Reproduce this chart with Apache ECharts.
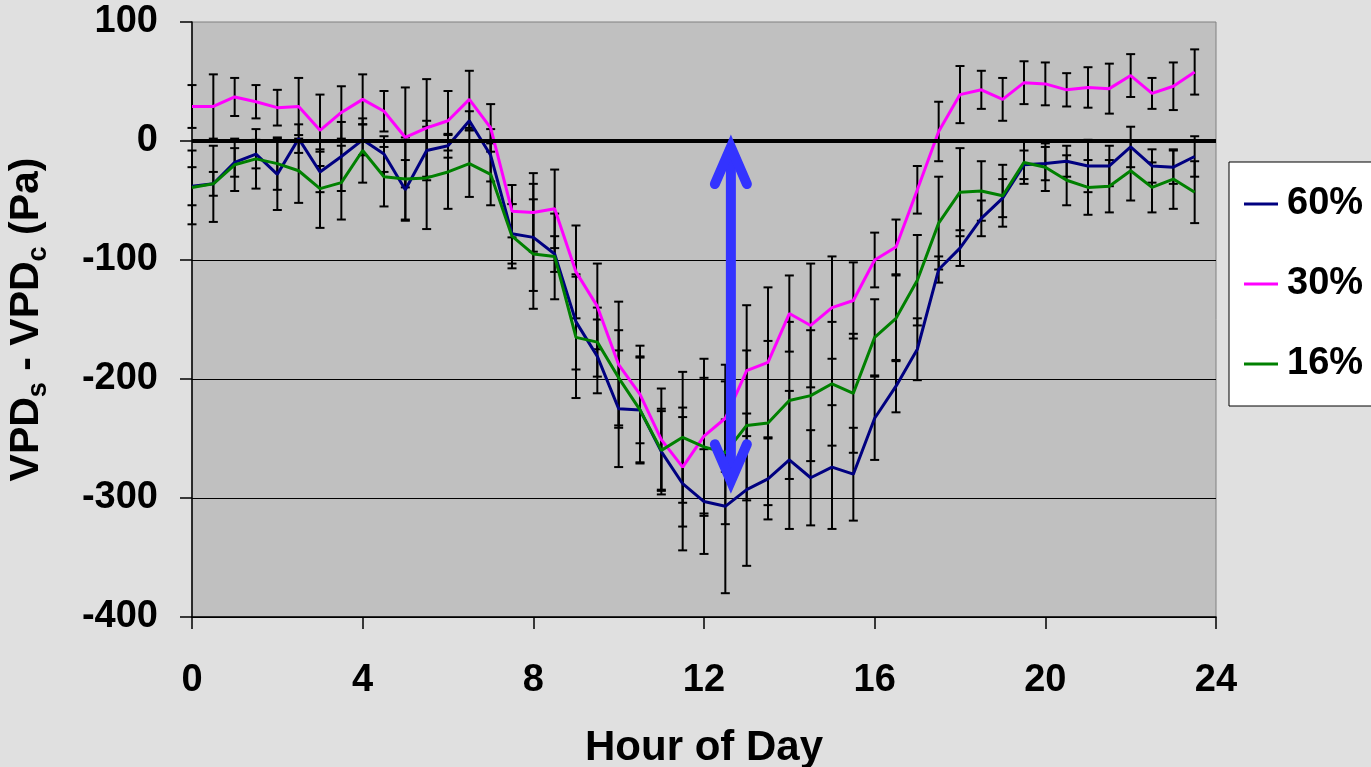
<!DOCTYPE html>
<html>
<head>
<meta charset="utf-8">
<script src="https://cdn.jsdelivr.net/npm/echarts@6/dist/echarts.min.js"></script>
<style>
  html, body { margin: 0; padding: 0; background: #e0e0e0; }
  #chart { width: 1371px; height: 767px; }
</style>
</head>
<body>
<div id="chart"></div>
<script>
// Half-hourly means of VPD(surface) - VPD(canopy), Pa, for three humidity treatments
const hours = [0, 0.5, 1, 1.5, 2, 2.5, 3, 3.5, 4, 4.5, 5, 5.5, 6, 6.5, 7, 7.5,
  8, 8.5, 9, 9.5, 10, 10.5, 11, 11.5, 12, 12.5, 13, 13.5, 14, 14.5, 15, 15.5,
  16, 16.5, 17, 17.5, 18, 18.5, 19, 19.5, 20, 20.5, 21, 21.5, 22, 22.5, 23, 23.5];

const rh60 = [-38, -36, -18, -11, -28, 2, -26, -13, 1, -11, -41, -8, -4, 17, -12, -78,
  -81, -95, -152, -181, -225, -226, -261, -288, -303, -307, -293, -284, -268, -283, -274, -280,
  -233, -206, -175, -108, -90, -65, -48, -20, -19, -17, -21, -21, -5, -21, -22, -13];
const rh30 = [29, 29, 37, 33, 28, 29, 9, 24, 35, 25, 3, 11, 17, 35, 11, -59,
  -60, -57, -110, -139, -188, -213, -251, -274, -248, -233, -193, -186, -145, -155, -140, -134,
  -100, -89, -41, 8, 39, 43, 35, 49, 48, 43, 45, 44, 55, 40, 46, 58];
const rh16 = [-39, -36, -20, -15, -19, -25, -40, -35, -8, -30, -32, -31, -26, -19, -28, -80,
  -95, -97, -165, -169, -199, -226, -260, -249, -257, -262, -239, -237, -218, -214, -204, -212,
  -165, -149, -117, -69, -43, -42, -46, -18, -22, -33, -39, -38, -25, -39, -32, -43];

// Standard-error half widths for each mean
const err60 = [16, 10, 12, 12, 30, 12, 17, 29, 13, 15, 25, 25, 10, 8, 22, 25,
  45, 15, 40, 31, 49, 45, 36, 56, 44, 73, 64, 34, 58, 40, 52, 39,
  35, 22, 26, 11, 15, 15, 16, 12, 14, 13, 22, 17, 17, 14, 14, 17];
const err30 = [18, 27, 16, 14, 15, 24, 30, 22, 21, 17, 42, 41, 25, 24, 20, 22,
  33, 33, 39, 36, 53, 41, 43, 50, 65, 45, 55, 63, 32, 52, 43, 32,
  23, 23, 20, 25, 24, 16, 18, 18, 18, 14, 17, 21, 18, 13, 20, 19];
const err16 = [31, 32, 22, 25, 22, 27, 33, 31, 27, 25, 35, 43, 31, 28, 26, 27,
  46, 36, 51, 29, 40, 44, 33, 55, 58, 60, 63, 69, 66, 55, 52, 50,
  32, 36, 38, 39, 37, 25, 26, 18, 20, 21, 23, 22, 25, 21, 25, 26];

const seriesNames = ['60%', '30%', '16%'];
const seriesColors = ['#000080', '#ff00ff', '#008000'];

// Double-headed arrow marking the midday spread between treatments
const arrowHour = 12.63;
const arrowTop = 5;
const arrowBottom = -296;
const arrowColor = '#3333ff';

const xTicks = [0, 4, 8, 12, 16, 20, 24];
const yTicks = [-400, -300, -200, -100, 0, 100];

function pairs(vals) {
  return hours.map((h, i) => [h, vals[i]]);
}

function errorData(vals, errs) {
  return hours.map((h, i) => [h, vals[i], errs[i]]);
}

function renderErrorBar(params, api) {
  const x = api.value(0), y = api.value(1), e = api.value(2);
  const hi = api.coord([x, y + e]);
  const lo = api.coord([x, y - e]);
  const hw = 4.5;
  const st = { stroke: '#000', lineWidth: 2 };
  return {
    type: 'group',
    children: [
      { type: 'line', shape: { x1: hi[0], y1: hi[1], x2: lo[0], y2: lo[1] }, style: st },
      { type: 'line', shape: { x1: hi[0] - hw, y1: hi[1], x2: hi[0] + hw, y2: hi[1] }, style: st },
      { type: 'line', shape: { x1: lo[0] - hw, y1: lo[1], x2: lo[0] + hw, y2: lo[1] }, style: st }
    ]
  };
}

function renderArrow(params, api) {
  const x = api.value(0);
  const top = api.coord([x, api.value(1)]);
  const bot = api.coord([x, api.value(2)]);
  const w = 10, miter = 12, wx = 16, wy = 37;
  const tv = [top[0], top[1] + miter];
  const bv = [bot[0], bot[1] - miter];
  const headStyle = { stroke: arrowColor, lineWidth: w, fill: null, lineCap: 'round', lineJoin: 'miter' };
  return {
    type: 'group',
    children: [
      { type: 'line', shape: { x1: tv[0], y1: tv[1], x2: bv[0], y2: bv[1] },
        style: { stroke: arrowColor, lineWidth: w } },
      { type: 'polyline', shape: { points: [[tv[0] - wx, tv[1] + wy], [tv[0], tv[1]], [tv[0] + wx, tv[1] + wy]] },
        style: headStyle },
      { type: 'polyline', shape: { points: [[bv[0] - wx, bv[1] - wy], [bv[0], bv[1]], [bv[0] + wx, bv[1] - wy]] },
        style: headStyle }
    ]
  };
}

const lineValues = [rh60, rh30, rh16];
const errValues = [err60, err30, err16];

const series = [];
lineValues.forEach((vals, k) => {
  series.push({
    type: 'custom',
    name: seriesNames[k] + ' SE',
    renderItem: renderErrorBar,
    data: errorData(vals, errValues[k]),
    encode: { x: 0, y: 1 },
    silent: true,
    z: 2
  });
});
lineValues.forEach((vals, k) => {
  series.push({
    type: 'line',
    name: seriesNames[k],
    data: pairs(vals),
    showSymbol: false,
    symbol: 'none',
    lineStyle: { color: seriesColors[k], width: 3 },
    itemStyle: { color: seriesColors[k] },
    z: 3,
    markLine: k === 0 ? {
      silent: true,
      symbol: 'none',
      label: { show: false },
      lineStyle: { color: '#000', width: 4, type: 'solid' },
      data: [{ yAxis: 0 }]
    } : undefined
  });
});
series.push({
  type: 'custom',
  name: 'spread',
  renderItem: renderArrow,
  data: [[arrowHour, arrowTop, arrowBottom]],
  encode: { x: 0, y: [1, 2] },
  silent: true,
  z: 10
});

const chart = echarts.init(document.getElementById('chart'), null, { renderer: 'canvas' });
chart.setOption({
  animation: false,
  backgroundColor: 'transparent',
  grid: {
    left: 192, right: 155, top: 22, bottom: 150,
    containLabel: false,
    outerBoundsMode: 'none',
    show: true, backgroundColor: '#c0c0c0', borderColor: '#808080', borderWidth: 1
  },
  legend: {
    data: seriesNames,
    orient: 'vertical',
    left: 1229, top: 162,
    backgroundColor: '#ffffff',
    borderColor: '#000000', borderWidth: 1,
    padding: [22, 20, 22, 15],
    icon: 'rect',
    itemWidth: 34, itemHeight: 3,
    itemGap: 40,
    textStyle: { fontFamily: 'Liberation Sans', fontWeight: 'bold', fontSize: 38, lineHeight: 40, color: '#000', padding: [0, 0, 0, 4] }
  },
  xAxis: {
    type: 'value',
    min: xTicks[0], max: xTicks[xTicks.length - 1], interval: 4,
    name: 'Hour of Day',
    nameLocation: 'middle',
    nameGap: 110,
    nameTextStyle: { fontFamily: 'Liberation Sans', fontWeight: 'bold', fontSize: 42, color: '#000' },
    axisLine: { show: true, onZero: false, lineStyle: { color: '#000', width: 1.5 } },
    axisTick: { show: true, inside: false, length: 12, lineStyle: { color: '#000', width: 1.5 } },
    axisLabel: { fontFamily: 'Liberation Sans', fontWeight: 'bold', fontSize: 38, color: '#000', margin: 45 },
    splitLine: { show: false }
  },
  yAxis: {
    type: 'value',
    min: yTicks[0], max: yTicks[yTicks.length - 1], interval: 100,
    name: '{m|VPD}{s|s}{m| - VPD}{s|c}{m| (Pa)}',
    nameLocation: 'middle',
    nameRotate: 90,
    nameGap: 140,
    nameTextStyle: {
      fontFamily: 'Liberation Sans', fontWeight: 'bold', fontSize: 41, color: '#000',
      rich: {
        m: { fontFamily: 'Liberation Sans', fontWeight: 'bold', fontSize: 41, color: '#000', lineHeight: 44, padding: [0, 0, 7, 0] },
        s: { fontFamily: 'Liberation Sans', fontWeight: 'bold', fontSize: 27, color: '#000', lineHeight: 27, verticalAlign: 'bottom' }
      }
    },
    axisLine: { show: true, lineStyle: { color: '#000', width: 1.5 } },
    axisTick: { show: true, inside: false, length: 12, lineStyle: { color: '#000', width: 1.5 } },
    axisLabel: { fontFamily: 'Liberation Sans', fontWeight: 'bold', fontSize: 38, color: '#000', margin: 34 },
    splitLine: { show: true, showMaxLine: false, lineStyle: { color: '#000', width: 1 } }
  },
  series: series
});
</script>
</body>
</html>
